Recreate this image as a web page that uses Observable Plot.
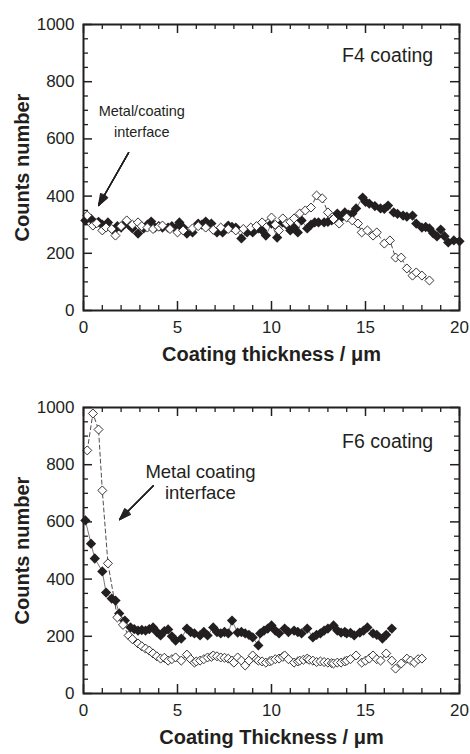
<!DOCTYPE html>
<html>
<head>
<meta charset="utf-8">
<script src="https://cdn.jsdelivr.net/npm/d3@7"></script>
<script src="https://cdn.jsdelivr.net/npm/@observablehq/plot@0.6"></script>
<style>
  html, body { margin: 0; padding: 0; background: #fff; }
  #chart { width: 470px; height: 754px; position: relative; }
  #chart svg { display: block; }
</style>
</head>
<body>
<div id="chart"></div>
<script>
// ---------- DATA ----------
// Top panel (F4 coating) – filled diamonds
const f4FilledX = [0.1,0.4,0.6,0.8,1.0,1.3,1.6,1.8,2.0,2.2,2.4,2.6,2.9,3.2,3.4,3.6,3.8,4.0,4.2,4.5,4.7,4.9,5.1,5.3,5.5,5.8,6.1,6.3,6.5,6.8,7.1,7.4,7.7,7.9,8.1,8.4,8.7,9.0,9.3,9.5,9.7,10.0,10.3,10.6,10.8,11.0,11.2,11.4,11.6,11.9,12.1,12.3,12.5,12.8,13.0,13.2,13.5,13.7,13.9,14.1,14.3,14.5,14.85,15.0,15.2,15.5,15.8,16.0,16.2,16.5,16.7,17.0,17.2,17.5,17.7,18.0,18.2,18.4,18.6,18.8,19.0,19.2,19.4,19.7,20.0];
const f4FilledY = [315,320,305,310,300,308,280,295,290,304,300,287,269,287,300,311,290,295,290,290,295,287,308,290,269,273,304,300,311,304,273,273,297,292,290,252,273,273,287,280,262,304,255,308,300,280,290,273,315,287,300,308,308,308,310,315,339,325,343,335,339,357,395,380,374,365,357,355,367,343,338,332,328,332,304,290,292,287,270,259,283,260,238,245,242];
// Top panel (F4 coating) – open diamonds
const f4OpenX = [0.2,0.5,0.7,1.0,1.2,1.5,1.7,2.0,2.3,2.6,2.9,3.1,3.4,3.7,4.0,4.2,4.6,5.0,5.3,5.8,6.1,6.5,6.9,7.3,7.7,8.1,8.5,8.9,9.2,9.5,10.0,10.2,10.4,10.6,10.8,11.0,11.2,11.5,11.8,12.1,12.4,12.7,13.0,13.3,13.6,14.0,14.3,14.6,14.8,15.1,15.4,15.6,16.0,16.3,16.6,16.9,17.2,17.5,17.7,18.0,18.4];
const f4OpenY = [332,297,305,280,290,285,262,295,315,300,308,295,290,285,293,297,285,273,280,287,295,290,282,290,285,280,285,290,295,308,325,300,280,322,304,310,322,339,350,360,402,392,343,320,304,325,315,304,273,280,262,273,234,245,185,185,147,122,133,122,105];
// Bottom panel (F6 coating) – filled diamonds
const f6FilledX = [0.1,0.4,0.6,1.0,1.2,1.5,1.7,1.9,2.2,2.5,2.7,2.9,3.1,3.3,3.5,3.7,3.9,4.1,4.3,4.5,4.7,4.9,5.2,5.5,5.7,5.9,6.2,6.4,6.6,6.9,7.1,7.3,7.5,7.7,7.9,8.2,8.4,8.6,8.8,9.0,9.3,9.4,9.6,9.8,10.0,10.2,10.4,10.7,10.9,11.2,11.4,11.6,11.9,12.2,12.4,12.6,12.8,13.0,13.3,13.5,13.7,13.9,14.0,14.2,14.4,14.7,14.9,15.1,15.4,15.6,15.9,16.1,16.4];
const f6FilledY = [605,524,472,427,353,332,325,280,255,231,225,220,222,220,225,231,215,203,218,224,200,185,192,227,215,210,203,215,203,231,215,210,215,210,255,213,215,210,205,196,168,210,220,227,238,220,210,227,215,220,215,210,227,196,205,210,220,227,238,220,213,215,210,212,203,213,220,231,210,205,192,205,227];
// Bottom panel (F6 coating) – open diamonds
const f6OpenX = [0.2,0.5,0.8,1.0,1.3,1.8,2.1,2.4,2.6,2.9,3.1,3.3,3.5,3.7,3.9,4.1,4.3,4.5,4.7,4.9,5.2,5.5,5.7,5.9,6.0,6.2,6.4,6.6,6.8,6.9,7.1,7.3,7.5,7.7,7.9,8.0,8.2,8.4,8.6,8.8,9.0,9.2,9.3,9.5,9.7,9.9,10.0,10.2,10.4,10.6,10.7,10.9,11.2,11.4,11.5,11.7,11.9,12.0,12.2,12.4,12.6,12.8,13.0,13.2,13.3,13.5,13.7,13.9,14.0,14.2,14.5,14.8,15.0,15.2,15.4,15.6,15.8,16.1,16.4,16.6,16.9,17.2,17.4,17.6,17.8,18.0];
const f6OpenY = [850,979,923,710,455,266,240,203,190,175,165,157,150,140,130,122,125,115,120,126,115,136,120,108,112,115,120,126,128,133,130,126,125,122,115,108,126,115,98,115,133,120,115,112,108,112,115,120,122,128,133,120,108,112,115,118,122,118,115,110,112,110,108,106,105,108,108,112,115,120,133,108,115,122,133,120,115,140,115,87,105,122,115,108,120,122];

// Axis ticks and labels
const xMajor = [0, 5, 10, 15, 20];
const xMinor = [1,2,3,4,6,7,8,9,11,12,13,14,16,17,18,19];
const yMajor = [0, 200, 400, 600, 800, 1000];
const yMinor = [50,100,150,250,300,350,450,500,550,650,700,750,850,900,950];

const panels = [
  { fx: f4FilledX, fy: f4FilledY, ox: f4OpenX, oy: f4OpenY,
    xTitle: "Coating thickness / μm", tag: "F4 coating", tagY: 892,
    note: "Metal/coating\ninterface", noteX: 3.1, noteY: 666, noteSize: 14.5, noteLH: 1.45,
    arrow: { x1: 2.4, y1: 552, x2: 0.8, y2: 367 },
    height: 383, marginTop: 24, marginBottom: 73 },
  { fx: f6FilledX, fy: f6FilledY, ox: f6OpenX, oy: f6OpenY,
    xTitle: "Coating Thickness / μm", tag: "F6 coating", tagY: 881,
    note: "Metal coating\ninterface", noteX: 6.22, noteY: 740, noteSize: 18.5, noteLH: 1.14,
    arrow: { x1: 3.72, y1: 727, x2: 1.92, y2: 608 },
    height: 371, marginTop: 24, marginBottom: 61 }
];

// square diamond symbol
const diamond = {
  draw(ctx, size) {
    const r = Math.sqrt(size / 2);
    ctx.moveTo(0, -r); ctx.lineTo(r, 0); ctx.lineTo(0, r); ctx.lineTo(-r, 0); ctx.closePath();
  }
};

const W = 470, ML = 83, MR = 11;
const ink = "#231f20";
const font = "'Liberation Sans', Arial, Helvetica, sans-serif";
const headAngles = [8, 16, 24, 32, 40];

for (const p of panels) {
  const innerW = W - ML - MR;
  const innerH = p.height - p.marginTop - p.marginBottom;
  const filled = p.fx.map((x, i) => ({ x, y: p.fy[i] }));
  const open = p.ox.map((x, i) => ({ x, y: p.oy[i] }));
  const plot = Plot.plot({
    width: W, height: p.height,
    marginLeft: ML, marginRight: MR, marginTop: p.marginTop, marginBottom: p.marginBottom,
    style: { fontFamily: font, color: ink, background: "#fff", overflow: "visible" },
    x: { domain: [0, 20] },
    y: { domain: [0, 1000] },
    marks: [
      // inward ticks, four sides
      Plot.ruleX(xMajor, { x: d => d, insetTop: innerH - 9, stroke: ink, strokeWidth: 1.5 }),
      Plot.ruleX(xMajor, { x: d => d, insetBottom: innerH - 9, stroke: ink, strokeWidth: 1.5 }),
      Plot.ruleX(xMinor, { x: d => d, insetTop: innerH - 5, stroke: ink, strokeWidth: 1.3 }),
      Plot.ruleX(xMinor, { x: d => d, insetBottom: innerH - 5, stroke: ink, strokeWidth: 1.3 }),
      Plot.ruleY(yMajor, { y: d => d, insetRight: innerW - 9, stroke: ink, strokeWidth: 1.5 }),
      Plot.ruleY(yMajor, { y: d => d, insetLeft: innerW - 9, stroke: ink, strokeWidth: 1.5 }),
      Plot.ruleY(yMinor, { y: d => d, insetRight: innerW - 5, stroke: ink, strokeWidth: 1.3 }),
      Plot.ruleY(yMinor, { y: d => d, insetLeft: innerW - 5, stroke: ink, strokeWidth: 1.3 }),
      Plot.axisX(xMajor, { tickSize: 0, tickPadding: 10, fontSize: 17, label: null, tickFormat: d => String(d), fill: ink }),
      Plot.axisY(yMajor, { tickSize: 0, tickPadding: 9, fontSize: 17, label: null, tickFormat: d => String(d), fill: ink }),
      Plot.text([p.xTitle], { frameAnchor: "bottom", dy: 50, fontSize: 20, fontWeight: "bold", fill: ink }),
      Plot.text(["Counts number"], { frameAnchor: "left", dx: -61, rotate: -90, textAnchor: "middle", lineAnchor: "middle", fontSize: 20, fontWeight: "bold", fill: ink }),
      // series
      Plot.line(filled, { x: "x", y: "y", stroke: ink, strokeWidth: 0.6 }),
      Plot.line(open, { x: "x", y: "y", stroke: ink, strokeWidth: 0.8, strokeDasharray: "4,3" }),
      Plot.dot(filled, { x: "x", y: "y", symbol: diamond, r: 4.1, fill: ink, stroke: "none" }),
      Plot.dot(open, { x: "x", y: "y", symbol: diamond, r: 3.6, fill: "white", stroke: ink, strokeWidth: 0.9 }),
      // annotations
      Plot.text([p.tag], { x: 18.6, y: p.tagY, textAnchor: "end", fontSize: 19.5, fill: ink }),
      Plot.text([p.note], { x: p.noteX, y: p.noteY, fontSize: p.noteSize, fill: ink, lineHeight: p.noteLH }),
      ...headAngles.map(a => Plot.arrow([p.arrow], { x1: "x1", y1: "y1", x2: "x2", y2: "y2", stroke: ink, strokeWidth: 1.2, headLength: 15, headAngle: a })),
      Plot.frame({ stroke: ink, strokeWidth: 2 })
    ]
  });
  document.getElementById("chart").appendChild(plot);
}
</script>
</body>
</html>
